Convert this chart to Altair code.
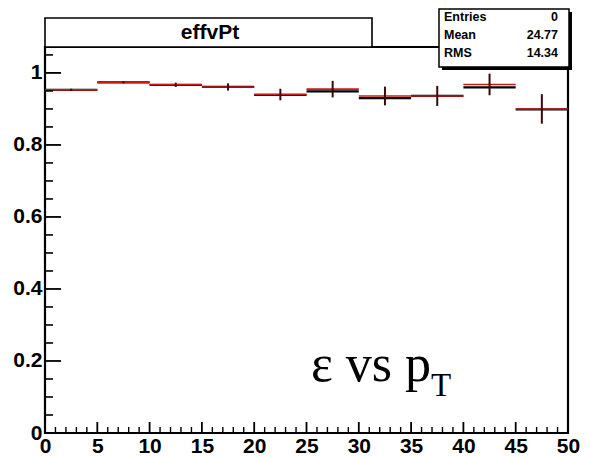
import altair as alt
import pandas as pd

# ---- data ----
bin_lo = [0, 5, 10, 15, 20, 25, 30, 35, 40, 45]
bin_hi = [5, 10, 15, 20, 25, 30, 35, 40, 45, 50]
eff_red = [0.953, 0.974, 0.967, 0.961, 0.940, 0.955, 0.936, 0.936, 0.968, 0.900]
eff_black = [0.953, 0.974, 0.967, 0.961, 0.939, 0.949, 0.930, 0.936, 0.960, 0.899]
eff_err = [0.003, 0.003, 0.006, 0.010, 0.016, 0.023, 0.026, 0.028, 0.030, 0.041]

x_major = [0, 5, 10, 15, 20, 25, 30, 35, 40, 45, 50]
x_minor = [v for v in range(0, 51) if v % 5 != 0]
y_major = [0, 0.2, 0.4, 0.6, 0.8, 1]
y_minor = [0.05, 0.1, 0.15, 0.25, 0.3, 0.35, 0.45, 0.5, 0.55, 0.65, 0.7, 0.75,
           0.85, 0.9, 0.95, 1.05]

stats_names = ["Entries", "Mean", "RMS"]
stats_values = ["0", "24.77", "14.34"]
title_text = "effvPt"

W, H = 523, 386
YMAX = 1.072

df = pd.DataFrame({
    "lo": bin_lo, "hi": bin_hi,
    "mid": [(a + b) / 2 for a, b in zip(bin_lo, bin_hi)],
    "red": eff_red, "black": eff_black,
})
df["elo"] = [r - e for r, e in zip(eff_red, eff_err)]
df["ehi"] = [r + e for r, e in zip(eff_red, eff_err)]

FONT = "Liberation Sans"
xscale = alt.Scale(domain=[0, 50], nice=False, zero=False)
yscale = alt.Scale(domain=[0, YMAX], nice=False, zero=False)
XAX = alt.Axis(values=x_major, ticks=False, domain=False, grid=False, labelFont=FONT,
               labelFontSize=21, labelFontWeight="bold", labelPadding=2,
               labelFlush=False, labelColor="black", title=None, format="~g")
YAX = alt.Axis(values=y_major, ticks=False, domain=False, grid=False, labelFont=FONT,
               labelFontSize=21, labelFontWeight="bold", labelPadding=3,
               labelColor="black", title=None, format="~g")

def X(f):
    return alt.X(f, type="quantitative", scale=xscale, axis=XAX)

def Y(f):
    return alt.Y(f, type="quantitative", scale=yscale, axis=YAX)

base = alt.Chart(df)

black_lines = base.mark_rule(color="black", strokeWidth=2.2).encode(
    x=X("lo"), x2="hi", y=Y("black"))
red_lines = base.mark_rule(color="#d01818", strokeWidth=1.6).encode(
    x=X("lo"), x2="hi", y=Y("red"))
err_bars = base.mark_rule(color="#3a0808", strokeWidth=2).encode(
    x=X("mid"), y=Y("elo"), y2="ehi")

# inward ticks (ROOT style)
ymaj = alt.Chart(pd.DataFrame({"v": y_major})).mark_rule(color="black", strokeWidth=1.8).encode(
    y=Y("v"), x=alt.value(0), x2=alt.value(16))
ymin = alt.Chart(pd.DataFrame({"v": y_minor})).mark_rule(color="black", strokeWidth=1.6).encode(
    y=Y("v"), x=alt.value(0), x2=alt.value(8))
xmaj = alt.Chart(pd.DataFrame({"v": x_major})).mark_rule(color="black", strokeWidth=1.8).encode(
    x=X("v"), y=alt.value(H), y2=alt.value(H - 11))
xmin = alt.Chart(pd.DataFrame({"v": x_minor})).mark_rule(color="black", strokeWidth=1.4).encode(
    x=X("v"), y=alt.value(H), y2=alt.value(H - 6))

one = alt.Chart(pd.DataFrame({"a": [0]}))

# title box
title_box = one.mark_rect(fill="white", stroke="black", strokeWidth=1.6).encode(
    x=alt.value(0), x2=alt.value(327), y=alt.value(-29), y2=alt.value(0))
title_txt = one.mark_text(font=FONT, fontSize=21, fontWeight="bold", align="center",
                          baseline="middle", color="black").encode(
    x=alt.value(165), y=alt.value(-14), text=alt.value(title_text))

# stats box with shadow
stats_shadow = one.mark_rect(fill="black").encode(
    x=alt.value(397), x2=alt.value(527), y=alt.value(-35), y2=alt.value(23))
stats_box = one.mark_rect(fill="white", stroke="black", strokeWidth=1.5).encode(
    x=alt.value(394), x2=alt.value(524), y=alt.value(-38), y2=alt.value(20))
row_y = [-30, -12, 6]
stats_layers = []
for name, val, yy in zip(stats_names, stats_values, row_y):
    stats_layers.append(one.mark_text(font=FONT, fontSize=12.5, fontWeight="bold",
                                      align="left", baseline="middle", color="black").encode(
        x=alt.value(399), y=alt.value(yy), text=alt.value(name)))
    stats_layers.append(one.mark_text(font=FONT, fontSize=12.5, fontWeight="bold",
                                      align="right", baseline="middle", color="black").encode(
        x=alt.value(513), y=alt.value(yy), text=alt.value(val)))

# annotation
ann_main = one.mark_text(font="Liberation Serif", fontSize=52, align="left",
                         baseline="alphabetic", color="black").encode(
    x=alt.value(266), y=alt.value(334), text=alt.value("ε vs p"))
ann_sub = one.mark_text(font="Liberation Serif", fontSize=33, align="left",
                        baseline="alphabetic", color="black").encode(
    x=alt.value(386), y=alt.value(349), text=alt.value("T"))

chart = alt.layer(
    black_lines, red_lines, err_bars, ymaj, ymin, xmaj, xmin,
    title_box, title_txt, stats_shadow, stats_box, *stats_layers,
    ann_main, ann_sub,
).properties(
    width=W, height=H,
    autosize=alt.AutoSizeParams(type="none"),
    padding={"left": 45, "top": 47, "right": 23, "bottom": 24},
    background="white",
).configure_view(stroke="black", strokeWidth=2.2)

chart.save("out.html", embed_options={"renderer": "svg", "actions": False})
